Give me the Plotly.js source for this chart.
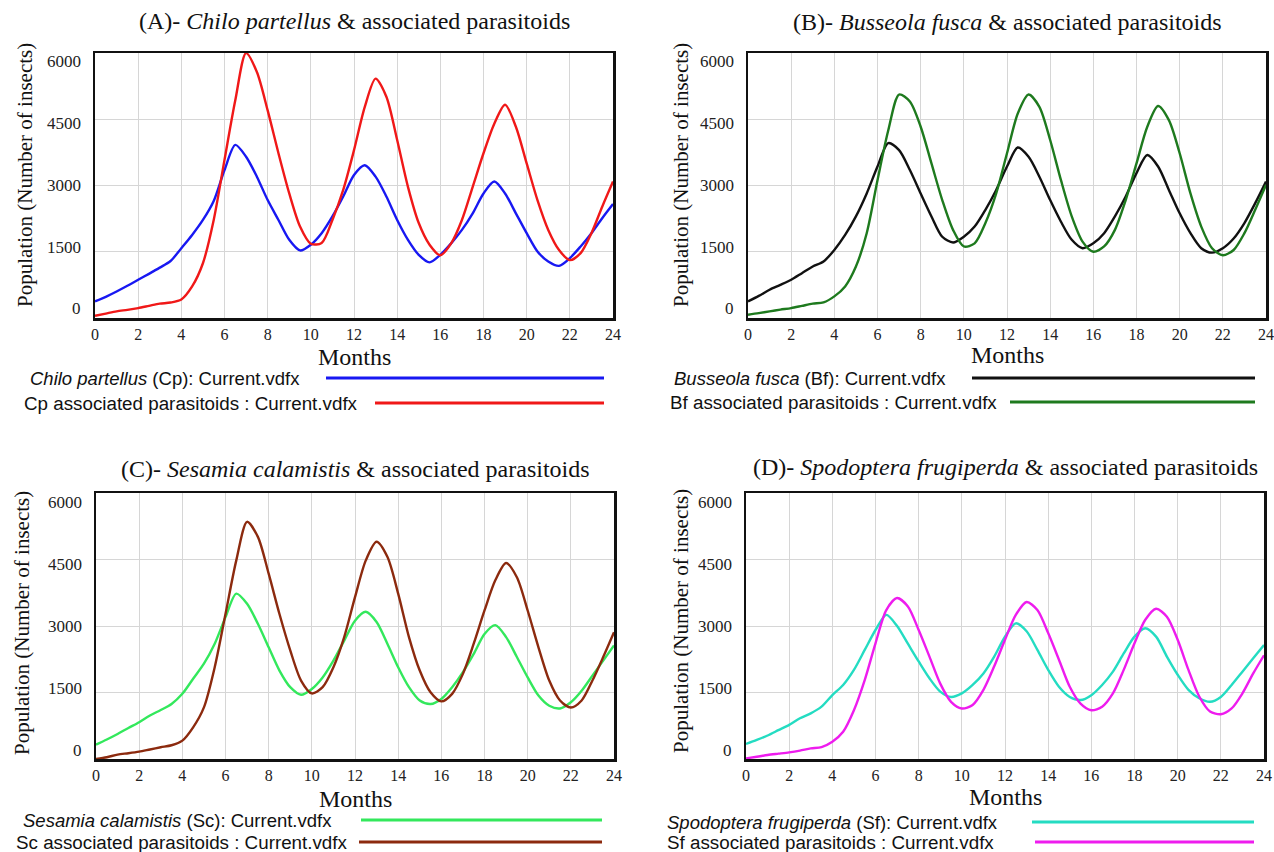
<!DOCTYPE html>
<html><head><meta charset="utf-8">
<script src="https://cdn.plot.ly/plotly-3.0.1.min.js"></script>
<style>html,body{margin:0;padding:0;background:#fff}#chart{width:1274px;height:852px}</style>
</head><body><div id="chart"></div>
<script>
// ---------- data ----------
const months = [0,0.5,1,1.5,2,2.5,3,3.5,4,4.5,5,5.5,6,6.5,7,7.5,8,8.5,9,9.5,10,10.5,11,11.5,12,12.5,13,13.5,14,14.5,15,15.5,16,16.5,17,17.5,18,18.5,19,19.5,20,20.5,21,21.5,22,22.5,23,23.5,24];
const xTicks = [0,2,4,6,8,10,12,14,16,18,20,22,24];
const yTicks = [0,1500,3000,4500,6000];

const chiloHost = [376,480,600,730,866,1000,1140,1290,1580,1880,2220,2650,3350,3920,3650,3200,2670,2220,1770,1530,1660,1920,2300,2750,3240,3460,3200,2750,2220,1770,1430,1260,1430,1690,1995,2370,2820,3090,2820,2370,1920,1505,1280,1180,1355,1620,1920,2260,2580];
const chiloPara = [50,100,150,185,225,275,325,350,420,715,1240,2220,3580,4930,6000,5570,4700,3730,2820,2070,1680,1700,2220,2900,3800,4780,5420,5010,4030,2970,2150,1660,1420,1690,2220,2970,3730,4400,4830,4330,3500,2670,1995,1540,1310,1470,1920,2520,3090];

const busseolaHost = [376,500,640,750,866,1015,1165,1280,1540,1880,2300,2820,3430,3960,3800,3350,2820,2300,1840,1710,1840,2070,2450,2900,3430,3860,3650,3200,2670,2180,1770,1580,1690,1920,2300,2750,3280,3690,3430,2900,2370,1920,1580,1480,1580,1800,2150,2600,3090];
const busseolaPara = [75,110,150,190,225,275,325,355,490,715,1165,1920,3120,4250,5060,4900,4330,3500,2670,1995,1620,1690,2150,2820,3730,4630,5060,4780,4030,3120,2300,1730,1500,1620,1995,2670,3500,4330,4800,4480,3730,2820,2070,1580,1420,1540,1920,2450,3010];

const sesamiaHost = [324,440,565,700,830,980,1105,1240,1470,1810,2150,2600,3200,3730,3500,3050,2520,1995,1620,1450,1580,1840,2220,2670,3120,3320,3090,2600,2070,1620,1320,1240,1355,1620,1960,2370,2820,3020,2750,2300,1840,1430,1200,1140,1280,1540,1880,2220,2560];
const sesamiaPara = [0,40,100,130,165,215,265,310,415,715,1165,2070,3270,4480,5350,5010,4180,3270,2450,1770,1480,1620,2070,2750,3650,4480,4900,4560,3730,2750,1995,1505,1300,1470,1920,2600,3350,4030,4420,4100,3350,2520,1770,1320,1160,1320,1770,2300,2860];

const spodopteraHost = [340,430,530,650,770,920,1030,1180,1440,1670,2010,2460,2910,3250,3000,2600,2200,1820,1520,1400,1480,1670,1930,2310,2760,3060,2880,2460,2010,1630,1400,1330,1440,1670,1970,2380,2760,2950,2760,2310,1900,1560,1370,1290,1400,1670,1970,2270,2570];
const spodopteraPara = [15,50,90,120,150,190,240,270,390,615,1100,1780,2610,3360,3630,3440,2910,2310,1700,1290,1140,1220,1560,2090,2690,3250,3540,3360,2840,2240,1630,1250,1100,1180,1480,2010,2610,3140,3390,3210,2690,2010,1410,1070,1010,1140,1480,1930,2340];

const panelTitles = [
  '(A)- <i>Chilo partellus</i> & associated parasitoids',
  '(B)- <i>Busseola fusca</i> & associated parasitoids',
  '(C)- <i>Sesamia calamistis</i> & associated parasitoids',
  '(D)- <i>Spodoptera frugiperda</i> & associated parasitoids'
];
const hostLabels = [
  '<i>Chilo partellus</i> (Cp): Current.vdfx',
  '<i>Busseola fusca</i> (Bf): Current.vdfx',
  '<i>Sesamia calamistis</i> (Sc): Current.vdfx',
  '<i>Spodoptera frugiperda</i> (Sf): Current.vdfx'
];
const paraLabels = [
  'Cp associated parasitoids : Current.vdfx',
  'Bf associated parasitoids : Current.vdfx',
  'Sc associated parasitoids : Current.vdfx',
  'Sf associated parasitoids : Current.vdfx'
];
const xTitle = 'Months';
const yTitle = 'Population (Number of insects)';

// ---------- layout geometry (pixels) ----------
const W = 1274, H = 852;
const px = x => x / W, py = y => 1 - y / H;
const hostSeries = [chiloHost, busseolaHost, sesamiaHost, spodopteraHost];
const paraSeries = [chiloPara, busseolaPara, sesamiaPara, spodopteraPara];
const hostColors = ['#1818f2', '#111111', '#33e85c', '#24dcc2'];
const paraColors = ['#f01818', '#1e7a1e', '#8c2a0e', '#ee1cee'];
const geo = [
  {l:95,  r:613,  t:53,  b:318, titleY:21,  ytX:25,  ytY:175, mY:357, g1Y:378, g2Y:403, g1X:28,  g2X:22,  l1:[326,604],  l2:[375,604]},
  {l:748, r:1266, t:53,  b:318, titleY:22,  ytX:681, ytY:175, mY:355, g1Y:378, g2Y:402, g1X:672, g2X:668, l1:[972,1255], l2:[1010,1255]},
  {l:96,  r:614,  t:493, b:759, titleY:469, ytX:22,  ytY:623, mY:799, g1Y:820, g2Y:842, g1X:21,  g2X:14,  l1:[361,602],  l2:[359,602]},
  {l:746, r:1264, t:493, b:759, titleY:467, ytX:681, ytY:621, mY:797, g1Y:822, g2Y:842, g1X:665, g2X:665, l1:[1032,1254], l2:[1035,1254]}
];
const labelInset = 9; // tick labels of the reference sit inside the frame ends

const serif = 'Liberation Serif, Times New Roman, serif';
const sans = 'Liberation Sans, Arial, sans-serif';
const traces = [], annotations = [], shapes = [];
const layout = {
  width: W, height: H, margin: {l:0, r:0, t:0, b:0},
  paper_bgcolor: '#fff', plot_bgcolor: '#fff', showlegend: false
};

geo.forEach((g, i) => {
  const n = i + 1;
  const xa = 'x' + n, ya = 'y' + n;
  layout['xaxis' + n] = {
    domain: [px(g.l), px(g.r)], anchor: ya, range: [0, 24],
    tickmode: 'array', tickvals: xTicks, ticktext: xTicks.map(String),
    showgrid: true, gridcolor: '#d6d6d6', gridwidth: 1, zeroline: false,
    showline: true, mirror: true, linecolor: '#111', linewidth: 2.5,
    ticks: '', tickfont: {family: serif, size: 16, color: '#222'}
  };
  layout['yaxis' + n] = {
    domain: [py(g.b), py(g.t)], anchor: xa, range: [0, 6000],
    tickmode: 'array', tickvals: yTicks, showticklabels: false,
    showgrid: true, gridcolor: '#d6d6d6', gridwidth: 1, zeroline: false,
    showline: true, mirror: true, linecolor: '#111', linewidth: 2.5, ticks: ''
  };
  // y tick labels (text on the axis's own scale, nudged inward like the reference)
  yTicks.forEach(v => {
    annotations.push({xref: 'paper', yref: ya, x: px(g.l - 12), y: v, xanchor: 'right', yanchor: 'middle',
      yshift: labelInset - 2 * labelInset * v / 6000,
      text: String(v), showarrow: false, font: {family: serif, size: 17, color: '#222'}});
  });

  traces.push({type: 'scatter', mode: 'lines', x: months, y: hostSeries[i], xaxis: xa, yaxis: ya,
    line: {color: hostColors[i], width: 2.4, shape: 'spline', smoothing: 0.8}, name: hostLabels[i]});
  traces.push({type: 'scatter', mode: 'lines', x: months, y: paraSeries[i], xaxis: xa, yaxis: ya,
    line: {color: paraColors[i], width: 2.4, shape: 'spline', smoothing: 0.8}, name: paraLabels[i]});

  const cx = (g.l + g.r) / 2;
  annotations.push({xref: 'paper', yref: 'paper', x: px(cx), y: py(g.titleY), xanchor: 'center', yanchor: 'middle',
    text: panelTitles[i], showarrow: false, font: {family: serif, size: 24, color: '#111'}});
  annotations.push({xref: 'paper', yref: 'paper', x: px(g.ytX), y: py(g.ytY), xanchor: 'center', yanchor: 'middle',
    text: yTitle, textangle: -90, showarrow: false, font: {family: serif, size: 21, color: '#111'}});
  annotations.push({xref: 'paper', yref: 'paper', x: px(cx), y: py(g.mY), xanchor: 'center', yanchor: 'middle',
    text: xTitle, showarrow: false, font: {family: serif, size: 24, color: '#111'}});
  annotations.push({xref: 'paper', yref: 'paper', x: px(g.g1X), y: py(g.g1Y), xanchor: 'left', yanchor: 'middle',
    text: hostLabels[i], showarrow: false, font: {family: sans, size: 18.5, color: '#111'}});
  annotations.push({xref: 'paper', yref: 'paper', x: px(g.g2X), y: py(g.g2Y), xanchor: 'left', yanchor: 'middle',
    text: paraLabels[i], showarrow: false, font: {family: sans, size: 18.8, color: '#111'}});
  shapes.push({type: 'line', xref: 'paper', yref: 'paper', x0: px(g.l1[0]), x1: px(g.l1[1]), y0: py(g.g1Y), y1: py(g.g1Y),
    line: {color: hostColors[i], width: 3}});
  shapes.push({type: 'line', xref: 'paper', yref: 'paper', x0: px(g.l2[0]), x1: px(g.l2[1]), y0: py(g.g2Y), y1: py(g.g2Y),
    line: {color: paraColors[i], width: 3}});
});
layout.annotations = annotations;
layout.shapes = shapes;

Plotly.newPlot('chart', traces, layout, {staticPlot: true, displayModeBar: false});
</script>
</body></html>
